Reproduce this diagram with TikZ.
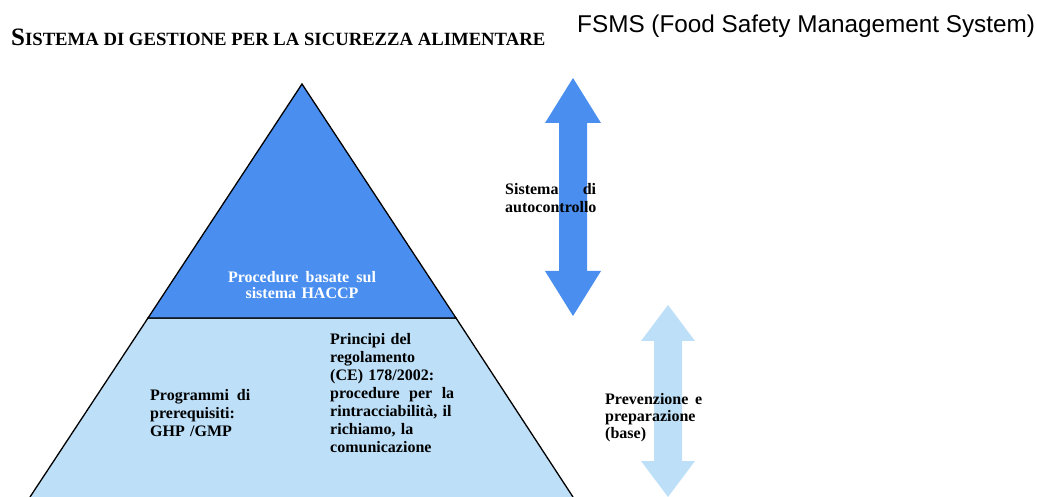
\documentclass[tikz,border=0pt]{standalone}
\usepackage{fontspec}
\setmainfont{Liberation Serif}
\setsansfont{Liberation Sans}
\usetikzlibrary{positioning}

\definecolor{haccpblue}{RGB}{74,143,240}
\definecolor{basecyan}{RGB}{189,223,248}

% vertical double block arrow: x, top y, bottom y, head half-width, head length, colour
\newcommand{\vblockarrow}[6]{%
  \fill[#6] (#1,#2) -- ({#1+#4},{#2+#5}) -- ({#1+14},{#2+#5}) -- ({#1+14},{#3-#5})
    -- ({#1+#4},{#3-#5}) -- (#1,#3) -- ({#1-#4},{#3-#5}) -- ({#1-14},{#3-#5})
    -- ({#1-14},{#2+#5}) -- ({#1-#4},{#2+#5}) -- cycle;}

\begin{document}
\begin{tikzpicture}[
    x=1pt, y=-1pt,
    font=\bfseries\fontsize{16}{18}\selectfont,
    % Styles
    tier/.style={draw=black, line width=1.3pt, line join=miter},
    txt/.style={inner sep=0pt, anchor=north west, align=left}
]
\useasboundingbox (0,0) rectangle (1037,497);

% 1. Headings
\node[anchor=base west, inner sep=0pt] (title) at (11,46)
  {{\fontsize{25}{25}\selectfont S}{\fontsize{18.7}{19}\selectfont ISTEMA DI GESTIONE PER LA SICUREZZA ALIMENTARE}};
\node[anchor=base west, inner sep=0pt, font=\sffamily\fontsize{24.3}{26}\selectfont] (fsms) at (577,33)
  {FSMS (Food Safety Management System)};

% 2. Pyramid
\coordinate (apex) at (302,84);
\coordinate (midL) at (148,318);
\coordinate (midR) at (456,318);
\coordinate (baseL) at (30,497);
\coordinate (baseR) at (573,497);

\fill[basecyan] (midL) -- (midR) -- (baseR) -- (baseL) -- cycle;
\draw[tier] (baseL) -- (midL) -- (midR) -- (baseR);
\filldraw[tier, fill=haccpblue] (apex) -- (midR) -- (midL) -- cycle;

% 3. Side arrows
\vblockarrow{573}{78}{316}{28}{45}{haccpblue}
\vblockarrow{668}{305}{497}{27}{36}{basecyan}

% 4. Texts
\node[txt, anchor=north, text width=148pt, align=center, text=white,
      font=\bfseries\fontsize{16}{16.5}\selectfont] (haccp) at (302,271)
  {Procedure\hfill basate\hfill sul\\sistema HACCP};
\node[txt, text width=100pt] (prereq) at (150,389)
  {Programmi\hfill di\\prerequisiti:\\GHP /GMP};
\node[txt, text width=124pt] (regul) at (330,333)
  {Principi del\\regolamento\\(CE) 178/2002:\\procedure\hfill per\hfill la\\rintracciabilità, il\\richiamo, la\\comunicazione};
\node[txt, text width=91pt] (selfctl) at (505,183)
  {Sistema\hfill di\\autocontrollo};
\node[txt, text width=97pt, font=\bfseries\fontsize{16}{17}\selectfont] (prevent) at (605,393)
  {Prevenzione\hfill e\\preparazione\\(base)};

\end{tikzpicture}
\end{document}
